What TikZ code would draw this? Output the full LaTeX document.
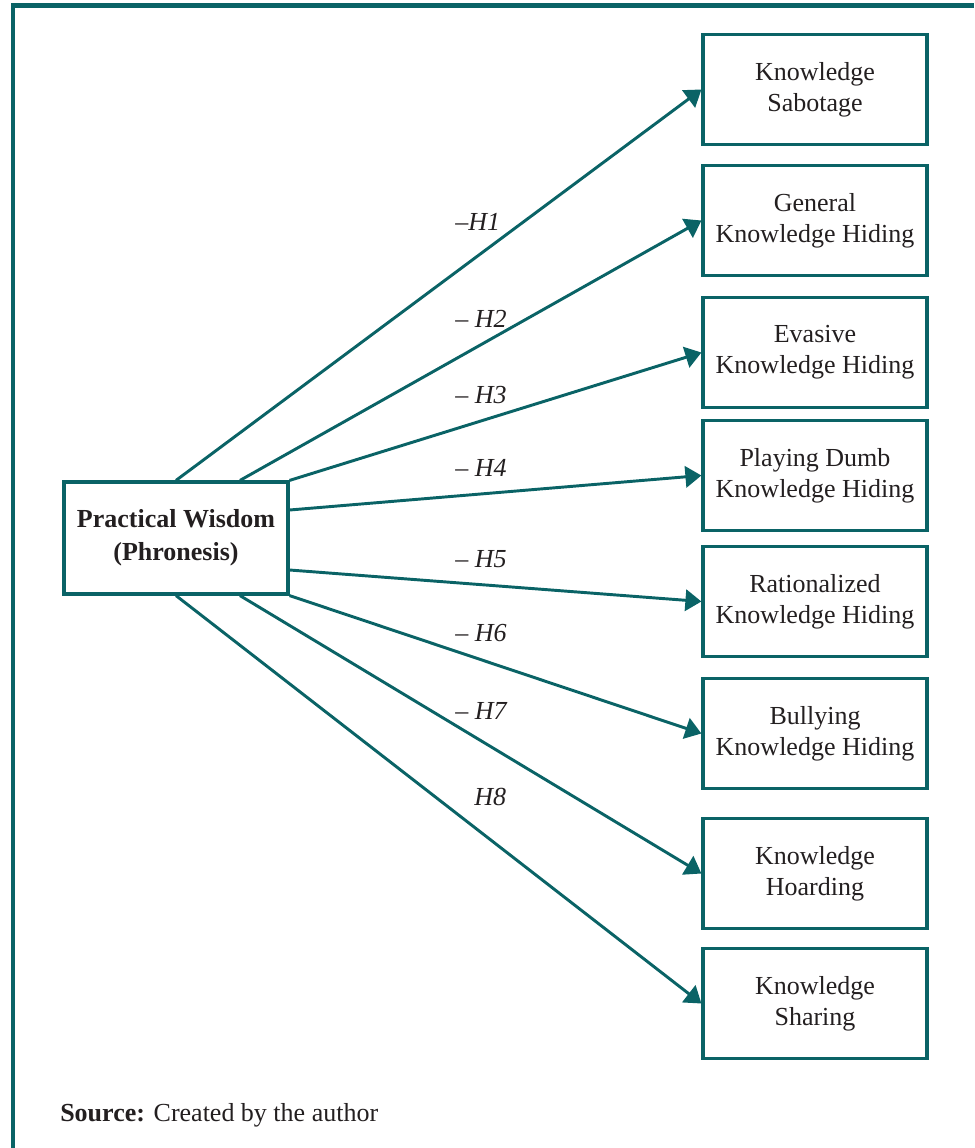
\documentclass[tikz,border=0pt]{standalone}
\usepackage{fontspec}
\setmainfont{Liberation Serif}
\usetikzlibrary{arrows.meta}
\definecolor{pwteal}{RGB}{10,99,102}
\definecolor{inkgray}{RGB}{35,31,32}
\begin{document}
\begin{tikzpicture}[x=0.75pt, y=-0.75pt,
  every node/.style={text=inkgray, font=\fontsize{19.5}{23.5}\selectfont},
  outcome/.style={draw=pwteal, line width=2.4pt, minimum width=168pt, minimum height=83pt, align=center},
  link/.style={draw=pwteal, line width=2.2pt, -{Triangle[length=12pt, width=16pt]}},
  hyp/.style={anchor=base west, inner sep=0pt}]
\useasboundingbox (0,0) rectangle (974,1148);
\draw[pwteal, line width=3.2pt] (13,1148) -- (13,5.5) -- (974,5.5);

\node[outcome, font=\bfseries\fontsize{19.5}{24.5}\selectfont, minimum width=168pt, minimum height=84pt] (pw) at (176,538) {Practical Wisdom\\(Phronesis)};

\node[outcome] (ks) at (815,89.5) {Knowledge\\Sabotage};
\node[outcome] (gkh) at (815,220.5) {General\\Knowledge Hiding};
\node[outcome] (ekh) at (815,352.5) {Evasive\\Knowledge Hiding};
\node[outcome] (pdkh) at (815,475.5) {Playing Dumb\\Knowledge Hiding};
\node[outcome] (rkh) at (815,601.5) {Rationalized\\Knowledge Hiding};
\node[outcome] (bkh) at (815,733.5) {Bullying\\Knowledge Hiding};
\node[outcome] (kho) at (815,873.5) {Knowledge\\Hoarding};
\node[outcome] (ksh) at (815,1003.5) {Knowledge\\Sharing};

\draw[link] (pw.north) -- (ks.west);
\draw[link] ([xshift=48pt]pw.north) -- (gkh.west);
\draw[link] (pw.north east) -- (ekh.west);
\draw[link] ([yshift=21pt]pw.east) -- (pdkh.west);
\draw[link] ([yshift=-24pt]pw.east) -- (rkh.west);
\draw[link] (pw.south east) -- (bkh.west);
\draw[link] ([xshift=48pt]pw.south) -- (kho.west);
\draw[link] (pw.south) -- (ksh.west);

% hypothesis labels
\node[hyp] (h1) at (455,230) {–\textit{H1}};
\node[hyp] (h2) at (455,327) {– \textit{H2}};
\node[hyp] (h3) at (455,403) {– \textit{H3}};
\node[hyp] (h4) at (455,476) {– \textit{H4}};
\node[hyp] (h5) at (455,567) {– \textit{H5}};
\node[hyp] (h6) at (455,641) {– \textit{H6}};
\node[hyp] (h7) at (455,719) {– \textit{H7}};
\node[hyp] (h8) at (474,805) {\textit{H8}};

\node[hyp] (src) at (60,1121) {\textbf{Source:} Created by the author};
\end{tikzpicture}
\end{document}
